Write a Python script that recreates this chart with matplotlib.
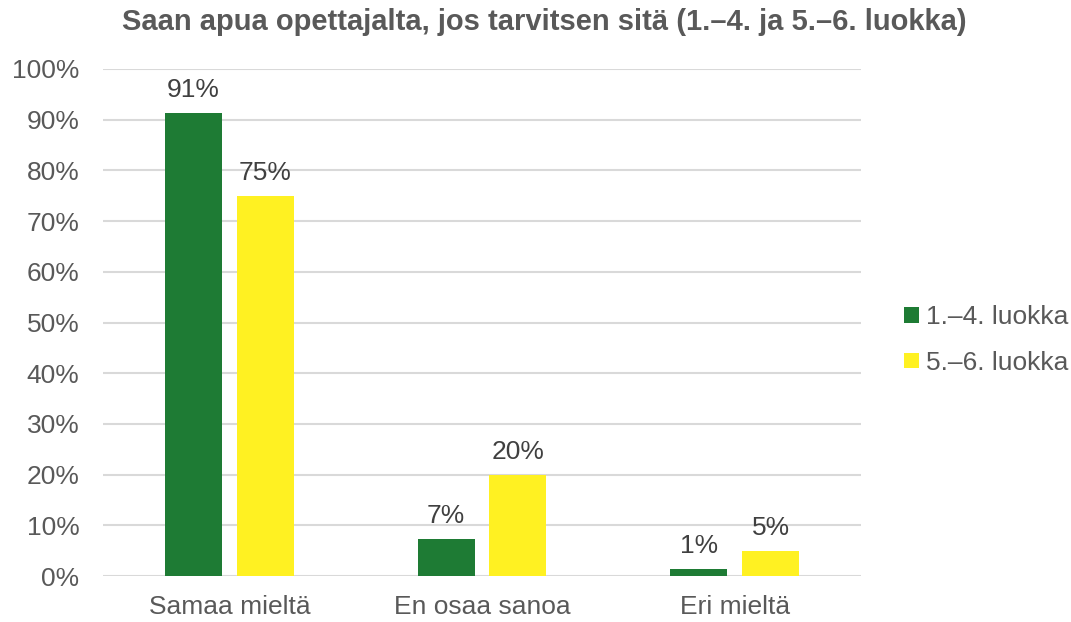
import matplotlib
matplotlib.use("Agg")
import matplotlib.pyplot as plt
import numpy as np

categories = ["Samaa mieltä", "En osaa sanoa", "Eri mieltä"]
series_names = ["1.–4. luokka", "5.–6. luokka"]
grade_1_4 = [91.3, 7.2, 1.3]
grade_5_6 = [75.0, 19.9, 4.9]
labels_1_4 = ["91%", "7%", "1%"]
labels_5_6 = ["75%", "20%", "5%"]
yticks = [0, 10, 20, 30, 40, 50, 60, 70, 80, 90, 100]
ytick_labels = [f"{v}%" for v in yticks]

plt.rcParams['font.family'] = ['Liberation Sans', 'DejaVu Sans']

fig = plt.figure(figsize=(10.71, 6.22), dpi=100)
ax = fig.add_axes([103/1071, 1-576/622, (861-103)/1071, (576-69)/622])

x = np.arange(len(categories))
w = 0.225
off = 0.142
green = "#1E7B34"
yellow = "#FFF122"
b1 = ax.bar(x - off, grade_1_4, w, color=green, label=series_names[0], zorder=3)
b2 = ax.bar(x + off, grade_5_6, w, color=yellow, label=series_names[1], zorder=3)

for bars, labs in ((b1, labels_1_4), (b2, labels_5_6)):
    for r, t in zip(bars, labs):
        ax.annotate(t, (r.get_x() + r.get_width()/2, r.get_height()),
                    xytext=(0, 8), textcoords="offset points",
                    ha="center", va="bottom", fontsize=19, color="#404040")

ax.set_xlim(-0.5, 2.5)
ax.set_ylim(0, 100)
ax.set_yticks(yticks)
ax.set_yticklabels(ytick_labels)
ax.set_xticks(x)
ax.set_xticklabels(categories)
ax.tick_params(axis='both', length=0, labelsize=19, labelcolor="#595959")
ax.tick_params(axis='y', pad=17)
ax.tick_params(axis='x', pad=14)
ax.grid(axis='y', color="#D9D9D9", linewidth=1.5, zorder=0)
for s in ax.spines.values():
    s.set_visible(False)

fig.text(544/1071, 1-22/622, "Saan apua opettajalta, jos tarvitsen sitä (1.–4. ja 5.–6. luokka)",
         ha="center", va="center", fontsize=21, fontweight="bold", color="#595959")

leg = fig.legend(loc="center left", bbox_to_anchor=(904/1071, 1-340/622), frameon=False,
                 borderpad=0, borderaxespad=0,
                 fontsize=19, handlelength=0.55, handleheight=0.55, handletextpad=0.28,
                 labelspacing=0.82, labelcolor="#595959")

fig.savefig("out.png", dpi=100)
